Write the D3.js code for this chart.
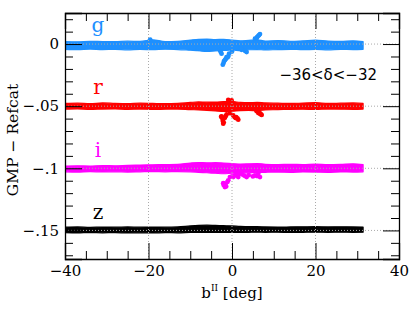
<!DOCTYPE html>
<html lang="en">
<head>
    <meta charset="UTF-8">
    <title>GMP - Refcat</title>
    <style>
        body {
            margin: 0;
            background-color: #fff;
            overflow: hidden;
        }

        svg {
            display: block;
        }

        .tick text {
            font-family: "DejaVu Serif", serif;
            font-size: 15px;
            fill: #000;
        }

        .tick line, .domain {
            stroke: #000;
        }
    </style>
</head>
<body>

<svg width="415" height="312"></svg>

<script src="https://d3js.org/d3.v7.min.js"></script>
<script>
    // band names, offsets and colours
    const bands = ["g", "r", "i", "z"];
    const offsets = [0, -0.05, -0.1, -0.15];
    const colors = ["#1e90ff", "#ff0000", "#ff00ff", "#000000"];

    // band envelope (mmag relative to the band offset)
    const xs = [-40, -37, -34, -31, -28, -25, -22, -19, -16, -13, -10, -8, -6, -4, -2, 0, 2, 4, 6, 8, 11, 14, 17, 20, 23, 26, 29, 31.4];
    const gUp = [2.0, 1.8, 2.2, 2.0, 1.9, 2.3, 2.1, 3.4, 2.0, 2.2, 3.2, 3.8, 4.0, 3.6, 3.8, 3.2, 2.6, 3.0, 3.4, 2.4, 2.8, 2.2, 2.6, 3.2, 2.4, 2.2, 2.6, 2.0];
    const gLo = [-4.2, -4.5, -4.0, -4.4, -4.2, -4.6, -4.3, -4.5, -4.1, -4.4, -5.0, -5.4, -6.0, -5.6, -5.2, -4.8, -5.4, -4.6, -4.4, -4.8, -4.4, -4.2, -4.5, -4.3, -4.6, -4.2, -4.4, -4.2];
    const rUp = [2.2, 2.4, 2.0, 2.6, 2.2, 2.0, 2.4, 2.2, 2.0, 2.3, 3.0, 3.4, 3.2, 3.3, 3.6, 3.8, 3.0, 2.8, 3.0, 2.6, 2.4, 2.2, 2.5, 2.8, 2.2, 2.4, 2.6, 2.2];
    const rLo = [-2.4, -2.2, -2.6, -2.3, -2.2, -2.5, -2.3, -2.6, -2.4, -2.3, -2.8, -3.0, -3.4, -3.8, -4.2, -4.0, -3.6, -3.4, -3.6, -3.0, -2.8, -2.5, -2.4, -2.6, -2.3, -2.4, -2.5, -2.3];
    const iUp = [1.8, 2.0, 1.8, 2.2, 2.0, 2.4, 2.6, 2.8, 3.0, 3.2, 4.2, 4.6, 4.4, 4.5, 4.2, 3.8, 3.4, 3.6, 3.8, 3.2, 3.0, 3.2, 3.0, 3.4, 3.0, 3.2, 3.6, 3.0];
    const iLo = [-2.8, -3.0, -2.7, -2.9, -2.8, -3.0, -2.8, -2.6, -2.8, -2.6, -2.8, -3.2, -3.6, -4.0, -4.4, -4.0, -3.8, -3.6, -3.4, -3.2, -3.0, -3.2, -2.9, -3.0, -3.2, -2.9, -3.0, -2.8];
    const zUp = [2.6, 2.8, 2.5, 2.7, 2.6, 2.8, 2.6, 2.7, 2.6, 2.8, 3.6, 4.0, 4.2, 4.0, 3.8, 3.6, 3.2, 3.0, 3.0, 2.8, 2.7, 2.8, 2.9, 3.0, 2.8, 2.9, 2.8, 2.7];
    const zLo = [-1.8, -2.0, -1.7, -1.9, -1.8, -2.0, -1.9, -2.0, -1.8, -1.9, -1.6, -1.5, -1.6, -1.5, -1.6, -1.5, -1.6, -1.5, -1.4, -1.5, -1.4, -1.6, -1.5, -1.4, -1.5, -1.4, -1.5, -1.4];

    // outlying stars near the plane [b, mmag relative to band]
    const gOut = [[-19.6, 3.6], [-8.1, -3.8], [-2.9, -5.0], [-2.7, -6.4], [-2.5, -7.7], [-2.2, -16.6], [-2.0, -15.0], [-1.9, -13.7],
        [-1.7, -13.0], [-1.5, -12.0], [-1.3, -10.5], [-1.1, -10.8], [-0.9, -10.0], [-0.7, -7.7], [0.0, -6.0], [2.0, -3.8], [2.3, -4.6],
        [3.1, -5.4], [3.5, -6.4], [5.5, 4.3], [5.9, 4.6], [6.0, 5.5], [6.3, 6.6], [6.5, 7.2], [6.7, 8.0]];
    const rOut = [[-2.6, -8.6], [-2.5, -8.2], [-2.3, -10.0], [-2.2, -12.0], [-2.1, -14.1], [-2.0, -13.0], [-1.7, -9.3], [-1.5, -8.0],
        [-1.3, -6.6], [-0.9, 5.0], [-0.5, -5.6], [-0.1, 4.7], [0.3, -7.5], [0.7, -9.0], [0.9, -9.5], [1.0, -8.8], [1.3, -9.8],
        [1.5, -10.9], [5.9, -4.0], [6.3, -5.5], [6.5, -4.5], [6.7, -6.0], [6.9, -6.5], [7.1, -7.0]];
    const iOut = [[-2.1, -12.0], [-2.0, -13.5], [-1.9, -12.4], [-1.7, -15.1], [-1.6, -13.0], [-1.4, -14.6], [-1.1, -11.0], [-0.9, -9.7],
        [-0.5, -7.1], [0.0, -6.5], [0.3, -7.1], [0.7, -5.7], [1.1, -4.4], [1.3, -6.0], [1.5, -7.1], [1.9, -4.3], [2.5, -5.0],
        [3.0, -6.0], [3.5, -7.1], [4.0, -5.5], [5.0, -6.5], [5.5, -5.7], [6.0, -6.2], [6.3, -4.3], [6.7, -7.1]];
    const zOut = [];

    const ups = [gUp, rUp, iUp, zUp];
    const los = [gLo, rLo, iLo, zLo];
    const outs = [gOut, rOut, iOut, zOut];

    // tick values
    const xMajor = [-40, -20, 0, 20, 40];
    const xMinor = d3.range(-35, 40, 5).filter(v => v % 20 !== 0);
    const yMajor = [0, -0.05, -0.1, -0.15];
    const yMinor = d3.range(-17, 3).map(v => v / 100).filter(v => !yMajor.some(m => Math.abs(m - v) < 1e-9));

    const svg = d3.select("svg");
    const mLeft = 65, mRight = 399, mTop = 13, mBottom = 259;

    const x = d3.scaleLinear().domain([-40, 40]).range([mLeft, mRight]);
    const y = d3.scaleLinear().domain([-0.173, 0.025]).range([mBottom, mTop]);

    svg.append("clipPath").attr("id", "clip")
        .append("rect")
        .attr("x", mLeft).attr("y", mTop)
        .attr("width", mRight - mLeft).attr("height", mBottom - mTop);

    const plot = svg.append("g").attr("clip-path", "url(#clip)");

    // bands
    bands.forEach((b, k) => {
        const off = offsets[k];
        const pts = xs.map((v, j) => ({ x: v, up: ups[k][j], lo: los[k][j] }));
        const area = d3.area()
            .x(d => x(d.x))
            .y0(d => y(off + d.lo / 1000))
            .y1(d => y(off + d.up / 1000))
            .curve(d3.curveMonotoneX);

        plot.append("path")
            .datum(pts)
            .attr("d", area)
            .attr("fill", colors[k])
            .attr("stroke", colors[k])
            .attr("stroke-width", 1.2)
            .attr("stroke-linejoin", "round");

        plot.append("g")
            .selectAll("circle")
            .data(outs[k])
            .join("circle")
            .attr("cx", d => x(d[0]))
            .attr("cy", d => y(off + d[1] / 1000))
            .attr("r", 2.4)
            .attr("fill", colors[k]);
    });

    // dotted grid on top of the data
    const grid = svg.append("g")
        .attr("stroke", "#aaa")
        .attr("stroke-width", 1)
        .attr("stroke-dasharray", "1,2");

    grid.selectAll("line.v")
        .data([-20, 0, 20])
        .join("line")
        .attr("class", "v")
        .attr("x1", d => x(d)).attr("x2", d => x(d))
        .attr("y1", mTop).attr("y2", mBottom);

    grid.selectAll("line.h")
        .data(yMajor)
        .join("line")
        .attr("class", "h")
        .attr("x1", mLeft).attr("x2", mRight)
        .attr("y1", d => y(d)).attr("y2", d => y(d));

    // axes
    const fmtY = v => v === 0 ? "0" : "\u2212" + d3.format(".2f")(-v).replace(/^0/, "").replace(/0$/, "");
    const fmtX = v => v < 0 ? "\u2212" + (-v) : String(v);

    svg.append("g")
        .attr("transform", `translate(0,${mBottom})`)
        .call(d3.axisBottom(x).tickValues(xMajor).tickSize(-16).tickPadding(6).tickFormat(fmtX));
    svg.append("g")
        .attr("transform", `translate(0,${mBottom})`)
        .call(d3.axisBottom(x).tickValues(xMinor).tickSize(-8).tickFormat(""))
        .select(".domain").remove();
    svg.append("g")
        .attr("transform", `translate(0,${mTop})`)
        .call(d3.axisTop(x).tickValues(xMajor).tickSize(-16).tickFormat(""));
    svg.append("g")
        .attr("transform", `translate(0,${mTop})`)
        .call(d3.axisTop(x).tickValues(xMinor).tickSize(-8).tickFormat(""))
        .select(".domain").remove();

    svg.append("g")
        .attr("transform", `translate(${mLeft},0)`)
        .call(d3.axisLeft(y).tickValues(yMajor).tickSize(-17).tickPadding(6).tickFormat(fmtY));
    svg.append("g")
        .attr("transform", `translate(${mLeft},0)`)
        .call(d3.axisLeft(y).tickValues(yMinor).tickSize(-8).tickFormat(""))
        .select(".domain").remove();
    svg.append("g")
        .attr("transform", `translate(${mRight},0)`)
        .call(d3.axisRight(y).tickValues(yMajor).tickSize(-16).tickFormat(""));
    svg.append("g")
        .attr("transform", `translate(${mRight},0)`)
        .call(d3.axisRight(y).tickValues(yMinor).tickSize(-8).tickFormat(""))
        .select(".domain").remove();

    svg.selectAll(".domain").attr("stroke-width", 1.3);

    // band letters
    svg.append("g")
        .selectAll("text")
        .data(bands)
        .join("text")
        .attr("x", x(-32.1))
        .attr("y", (d, k) => y(offsets[k] + 0.0095))
        .attr("text-anchor", "middle")
        .attr("font-family", "DejaVu Serif, serif")
        .attr("font-size", 20)
        .attr("fill", (d, k) => colors[k])
        .text(d => d);

    // declination range
    svg.append("text")
        .attr("x", 377)
        .attr("y", 80)
        .attr("text-anchor", "end")
        .attr("font-family", "DejaVu Sans, sans-serif")
        .attr("font-size", 15)
        .text("\u221236<\u03b4<\u221232");

    // axis titles
    svg.append("text")
        .attr("transform", "translate(18,140) rotate(-90)")
        .attr("text-anchor", "middle")
        .attr("font-family", "DejaVu Serif, serif")
        .attr("font-size", 15.5)
        .text("GMP \u2212 Refcat");

    const xt = svg.append("text")
        .attr("x", 232)
        .attr("y", 298)
        .attr("text-anchor", "middle")
        .attr("font-family", "DejaVu Serif, serif")
        .attr("font-size", 15);
    xt.append("tspan").text("b");
    xt.append("tspan").attr("font-size", 9).attr("dy", -7).text("II");
    xt.append("tspan").attr("dy", 7).text(" [deg]");
</script>
</body>
</html>
